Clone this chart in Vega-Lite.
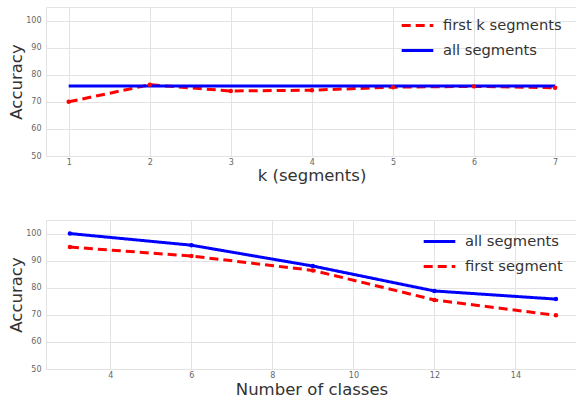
{
  "$schema": "https://vega.github.io/schema/vega-lite/v6.json",
  "background": "white",
  "padding": {"left": 8, "top": 6, "right": 0, "bottom": 0},
  "spacing": 35,
  "datasets": {
    "top": [
      {"k": 1, "acc": 70.0, "series": "first k segments"},
      {"k": 2, "acc": 76.3, "series": "first k segments"},
      {"k": 3, "acc": 74.0, "series": "first k segments"},
      {"k": 4, "acc": 74.3, "series": "first k segments"},
      {"k": 5, "acc": 75.4, "series": "first k segments"},
      {"k": 6, "acc": 75.7, "series": "first k segments"},
      {"k": 7, "acc": 75.2, "series": "first k segments"},
      {"k": 1, "acc": 75.8, "series": "all segments"},
      {"k": 2, "acc": 75.8, "series": "all segments"},
      {"k": 3, "acc": 75.8, "series": "all segments"},
      {"k": 4, "acc": 75.8, "series": "all segments"},
      {"k": 5, "acc": 75.8, "series": "all segments"},
      {"k": 6, "acc": 75.8, "series": "all segments"},
      {"k": 7, "acc": 75.8, "series": "all segments"}
    ],
    "bottom": [
      {"n": 3, "acc": 100.0, "series": "all segments"},
      {"n": 6, "acc": 95.7, "series": "all segments"},
      {"n": 9, "acc": 88.0, "series": "all segments"},
      {"n": 12, "acc": 78.8, "series": "all segments"},
      {"n": 15, "acc": 75.8, "series": "all segments"},
      {"n": 3, "acc": 95.0, "series": "first segment"},
      {"n": 6, "acc": 91.7, "series": "first segment"},
      {"n": 9, "acc": 86.4, "series": "first segment"},
      {"n": 12, "acc": 75.5, "series": "first segment"},
      {"n": 15, "acc": 69.8, "series": "first segment"}
    ]
  },
  "config": {
    "view": {"stroke": "#e3e3e3"},
    "font": "DejaVu Sans",
    "axis": {
      "domain": false,
      "ticks": false,
      "grid": true,
      "gridColor": "#e3e3e3",
      "gridWidth": 1,
      "labelFont": "DejaVu Sans",
      "labelFontSize": 8,
      "labelColor": "#666",
      "labelPadding": 5,
      "labelOverlap": false,
      "titleFont": "DejaVu Sans",
      "titleFontSize": 16.5,
      "titleFontWeight": "normal",
      "titleColor": "#333"
    },
    "legend": {
      "orient": "none",
      "title": null,
      "labelFont": "DejaVu Sans",
      "labelFontSize": 14.7,
      "labelColor": "#333",
      "symbolType": "stroke",
      "symbolSize": 1000,
      "symbolStrokeWidth": 3,
      "labelOffset": 8,
      "rowPadding": -11
    }
  },
  "vconcat": [
    {
      "width": 531,
      "height": 149,
      "data": {"name": "top"},
      "layer": [
        {
          "mark": {"type": "line", "strokeWidth": 3},
          "encoding": {
            "x": {"field": "k", "type": "quantitative", "scale": {"domain": [0.72, 7.27], "nice": false, "zero": false}, "axis": {"values": [1, 2, 3, 4, 5, 6, 7], "format": "d", "title": "k (segments)", "titlePadding": 1, "labelPadding": 2, "labelOverlap": false}},
            "y": {"field": "acc", "type": "quantitative", "scale": {"domain": [50, 105], "nice": false, "zero": false}, "axis": {"values": [50, 60, 70, 80, 90, 100], "tickCount": 6, "title": "Accuracy", "titlePadding": 1, "labelOverlap": false}},
            "color": {"field": "series", "type": "nominal", "scale": {"domain": ["first k segments", "all segments"], "range": ["#ff0000", "#0000ff"]}, "legend": {"legendX": 354, "legendY": 1}},
            "strokeDash": {"field": "series", "type": "nominal", "scale": {"domain": ["first k segments", "all segments"], "range": [[9, 5], [1, 0]]}, "legend": {"legendX": 354, "legendY": 1}}
          }
        },
        {
          "transform": [{"filter": "datum.series === 'first k segments'"}],
          "mark": {"type": "point", "filled": true, "size": 20, "opacity": 1, "color": "#ff0000"},
          "encoding": {
            "x": {"field": "k", "type": "quantitative"},
            "y": {"field": "acc", "type": "quantitative", "axis": {"values": [50, 60, 70, 80, 90, 100], "tickCount": 6, "labelOverlap": false}}
          }
        }
      ]
    },
    {
      "width": 531,
      "height": 149,
      "data": {"name": "bottom"},
      "layer": [
        {
          "mark": {"type": "line", "strokeWidth": 3},
          "encoding": {
            "x": {"field": "n", "type": "quantitative", "scale": {"domain": [2.41, 15.52], "nice": false, "zero": false}, "axis": {"values": [4, 6, 8, 10, 12, 14], "title": "Number of classes", "titlePadding": 2, "labelPadding": 2, "labelOverlap": false}},
            "y": {"field": "acc", "type": "quantitative", "scale": {"domain": [50, 105], "nice": false, "zero": false}, "axis": {"values": [50, 60, 70, 80, 90, 100], "tickCount": 6, "title": "Accuracy", "titlePadding": 1, "labelOverlap": false}},
            "color": {"field": "series", "type": "nominal", "scale": {"domain": ["all segments", "first segment"], "range": ["#0000ff", "#ff0000"]}, "legend": {"legendX": 376, "legendY": 4}},
            "strokeDash": {"field": "series", "type": "nominal", "scale": {"domain": ["all segments", "first segment"], "range": [[1, 0], [9, 5]]}, "legend": {"legendX": 376, "legendY": 4}}
          }
        },
        {
          "mark": {"type": "point", "filled": true, "size": 20, "opacity": 1},
          "encoding": {
            "x": {"field": "n", "type": "quantitative"},
            "y": {"field": "acc", "type": "quantitative", "axis": {"values": [50, 60, 70, 80, 90, 100], "tickCount": 6, "labelOverlap": false}},
            "color": {"field": "series", "type": "nominal", "legend": null}
          }
        }
      ]
    }
  ],
  "resolve": {"scale": {"color": "independent", "strokeDash": "independent"}}
}
